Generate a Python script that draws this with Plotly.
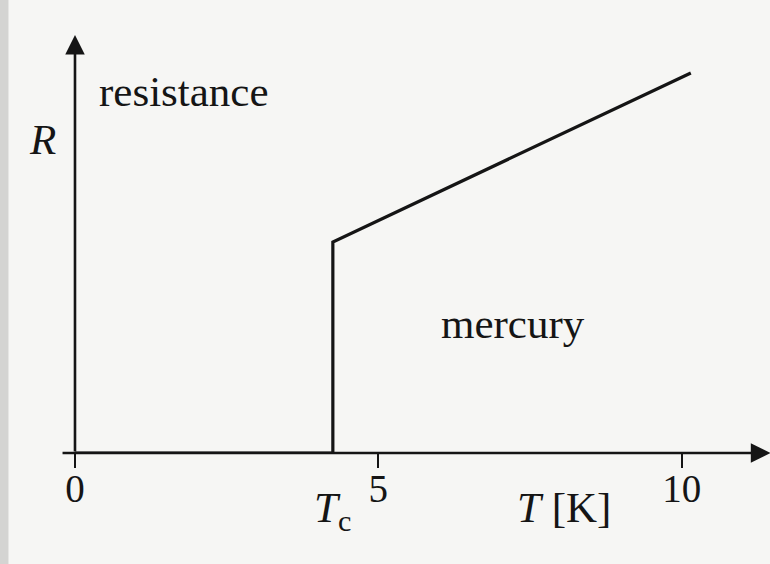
import plotly.graph_objects as go

# Resistance of mercury vs temperature (schematic)
temp_K = [0, 4.25, 4.25, 10.15]
resistance = [0, 0, 0.555, 1.0]
tick_vals = [0, 5, 10]
tick_text = ["0", "5", "10"]
t_crit = 4.25

ink = "#151515"
bg = "#f6f6f4"
serif = "Liberation Serif, Times New Roman, serif"

fig = go.Figure()
fig.add_trace(go.Scatter(
    x=temp_K, y=resistance, mode="lines",
    line=dict(color=ink, width=3.2),
    cliponaxis=False, showlegend=False, hoverinfo="skip",
))

# axis arrows
fig.add_annotation(x=11.46, y=0, ax=-0.23, ay=0, xref="x", yref="y",
                   axref="x", ayref="y", showarrow=True, arrowhead=2,
                   arrowsize=1.5, arrowwidth=2.6, arrowcolor=ink, text="")
fig.add_annotation(x=0, y=1.1, ax=0, ay=0, xref="x", yref="y",
                   axref="x", ayref="y", showarrow=True, arrowhead=2,
                   arrowsize=1.5, arrowwidth=2.6, arrowcolor=ink, text="")

# labels inside the plot (data coords)
labels = [
    ("resistance", 1.80, 0.95),
    ("<i>R</i>", -0.53, 0.825),
    ("mercury", 7.22, 0.34),
]
for txt, x, y in labels:
    fig.add_annotation(x=x, y=y, text=txt, showarrow=False,
                       font=dict(family=serif, size=43, color=ink))

# labels below the x axis (paper y, since they sit outside the range)
below = [
    ("<i>T</i> [K]", 8.06, -0.121),
    ("<i>T</i><sub>c</sub>", t_crit, -0.128),
]
for txt, x, y in below:
    fig.add_annotation(x=x, y=y, xref="x", yref="paper", text=txt,
                       showarrow=False, xanchor="center", yanchor="middle",
                       font=dict(family=serif, size=43, color=ink))

# grey scan edge on the left
fig.add_shape(type="rect", xref="paper", yref="paper", x0=0, x1=0.011,
              y0=-0.25, y1=1, fillcolor="#d4d4d2", line_width=0, layer="below")

fig.update_layout(
    width=770, height=564,
    margin=dict(l=0, r=0, t=0, b=111),
    paper_bgcolor=bg, plot_bgcolor=bg,
    xaxis=dict(range=[-1.236, 11.455], showgrid=False, zeroline=False,
               showline=False, tickmode="array", tickvals=tick_vals,
               ticktext=tick_text, ticks="outside", ticklen=14,
               tickwidth=2, tickcolor=ink, ticklabelstandoff=-13,
               tickfont=dict(family=serif, size=39, color=ink)),
    yaxis=dict(range=[0, 1.192], showgrid=False, zeroline=False,
               showline=False, showticklabels=False, ticks=""),
)

fig.write_html("out.html", config={"displayModeBar": False},
               post_script="document.body.style.margin='0';"
                           "document.body.style.background='%s';" % bg)
